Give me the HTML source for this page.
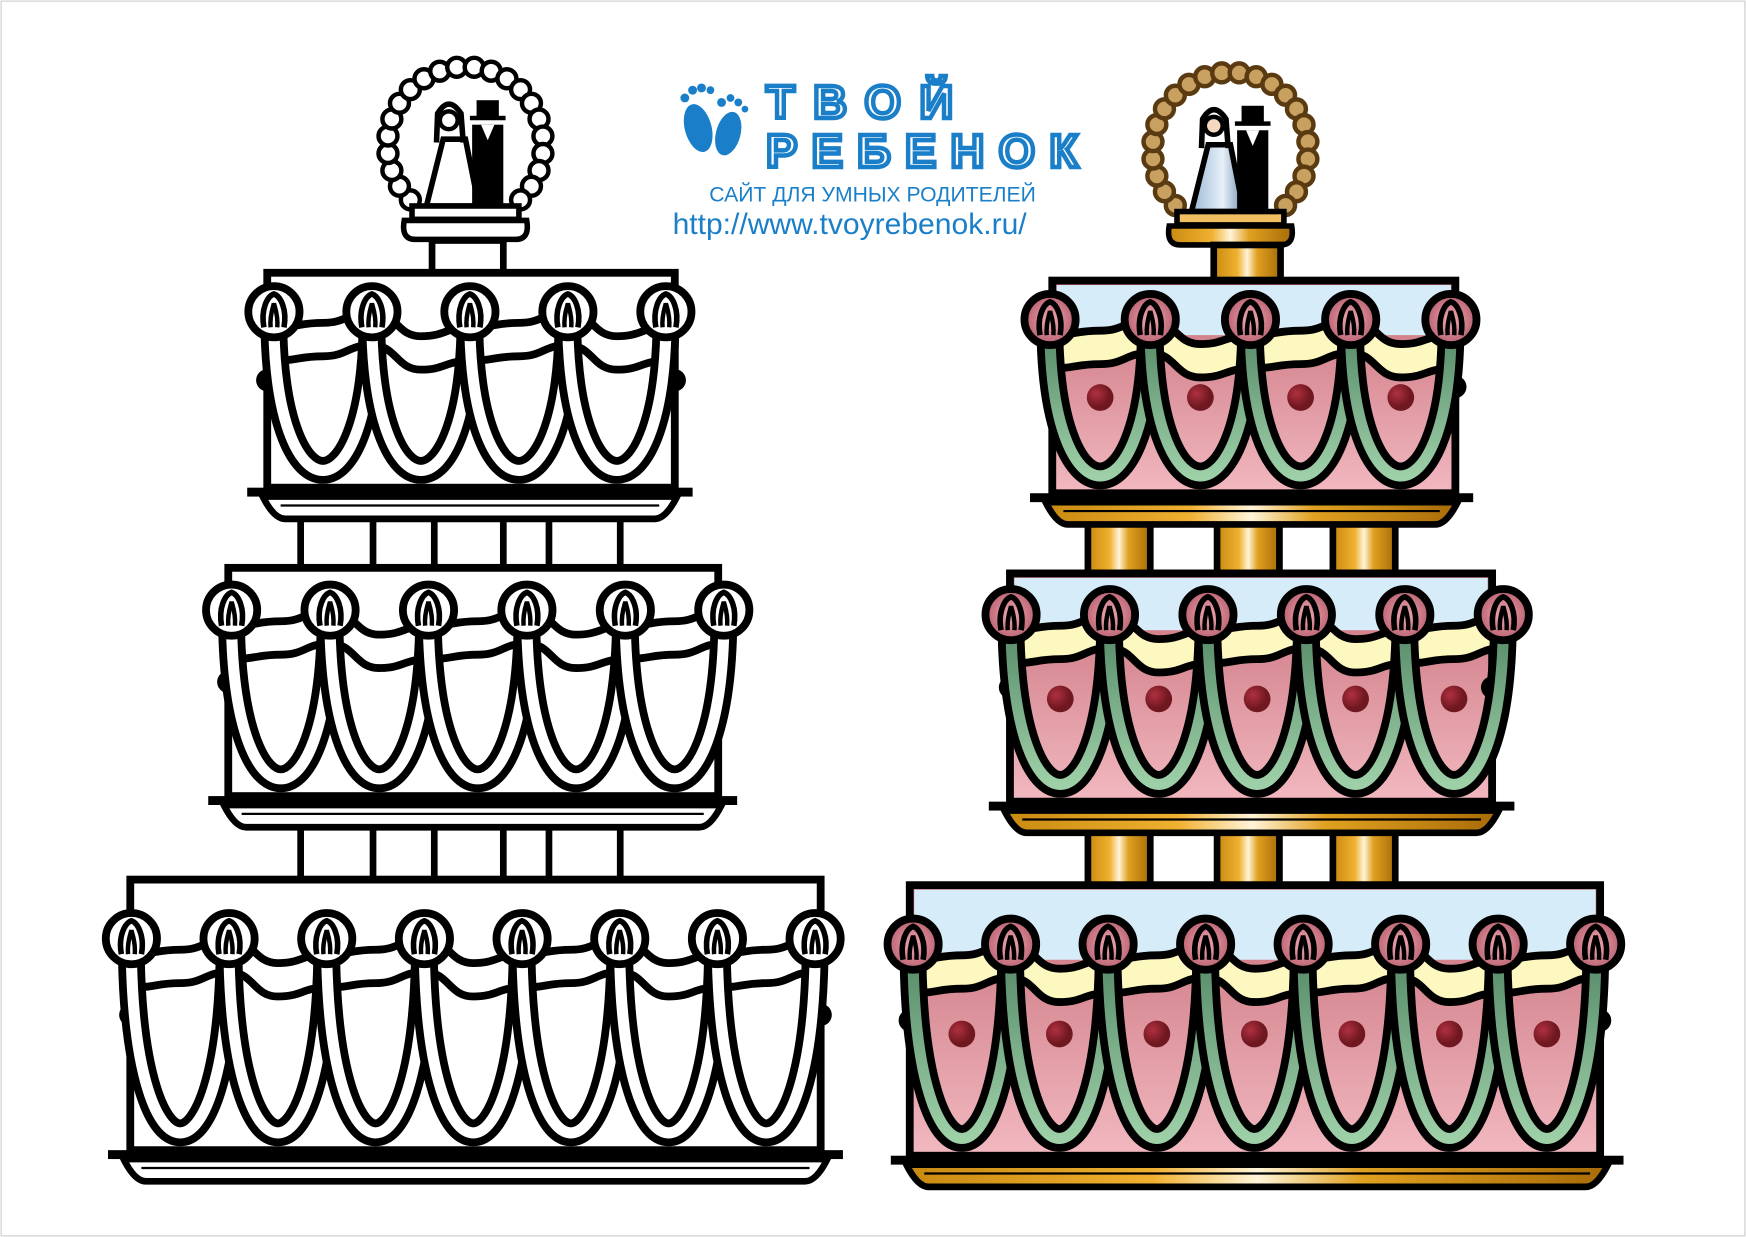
<!DOCTYPE html>
<html><head><meta charset="utf-8"><style>
html,body{margin:0;padding:0;background:#fff;width:1746px;height:1237px;overflow:hidden}
svg{position:absolute;left:0;top:0}
.t{font-family:"Liberation Sans",sans-serif;fill:#1a7fc8}
</style></head><body>
<svg id="s" width="1746" height="1237" viewBox="0 0 1568 1111" preserveAspectRatio="none" xmlns="http://www.w3.org/2000/svg">
<defs>
<linearGradient id="pink" x1="0" y1="0" x2="0" y2="1"><stop offset="0" stop-color="#c8707a"/><stop offset="1" stop-color="#f2b8c0"/></linearGradient>
<linearGradient id="gold" x1="0" y1="0" x2="1" y2="0"><stop offset="0" stop-color="#c88a10"/><stop offset=".35" stop-color="#f0b030"/><stop offset=".5" stop-color="#fff4d8"/><stop offset=".65" stop-color="#e0a020"/><stop offset="1" stop-color="#a86c08"/></linearGradient>
<linearGradient id="green" x1="0" y1="0" x2="0" y2="1"><stop offset="0" stop-color="#5a8e6c"/><stop offset="1" stop-color="#9ed0a8"/></linearGradient>
<radialGradient id="rose"><stop offset="0" stop-color="#f0a8b0"/><stop offset="1" stop-color="#b86070"/></radialGradient>
<radialGradient id="dot" cx=".35" cy=".35"><stop offset="0" stop-color="#b03040"/><stop offset="1" stop-color="#701820"/></radialGradient>
<linearGradient id="bride" x1="0" y1="0" x2="1" y2="0"><stop offset="0" stop-color="#9ab8d8"/><stop offset=".6" stop-color="#e8f0f8"/><stop offset="1" stop-color="#7090b0"/></linearGradient>
</defs>
<rect x="1" y="1" width="1566" height="1109" fill="none" stroke="#ccc" stroke-width="1"/>
<g id="cakes"></g>
<g fill="#1a7fc8">
<ellipse cx="627" cy="115" rx="12" ry="22" transform="rotate(-15 627 115)"/>
<ellipse cx="654" cy="120" rx="11" ry="20" transform="rotate(15 654 120)"/>
<circle cx="615" cy="88" r="4"/><circle cx="622" cy="81" r="4"/><circle cx="630" cy="79" r="4"/><circle cx="638" cy="81" r="3.5"/>
<circle cx="648" cy="92" r="4"/><circle cx="656" cy="88" r="3.5"/><circle cx="663" cy="92" r="3.5"/><circle cx="669" cy="98" r="3"/>
</g>
<text x="688" y="106" font-family="Liberation Sans, sans-serif" font-size="42" font-weight="bold" stroke="#1a7fc8" stroke-width="4" fill="#fff" textLength="168" lengthAdjust="spacing">ТВОЙ</text>
<text x="688" y="150" font-family="Liberation Sans, sans-serif" font-size="42" font-weight="bold" stroke="#1a7fc8" stroke-width="4" fill="#fff" textLength="280" lengthAdjust="spacing">РЕБЕНОК</text>
<text x="637" y="181" class="t" font-size="19">САЙТ ДЛЯ УМНЫХ  РОДИТЕЛЕЙ</text>
<text x="604" y="210" class="t" font-size="27">http://www.tvoyrebenok.ru/</text>
</svg>
<script>
const NS="http://www.w3.org/2000/svg",G=document.getElementById('cakes');
function el(t,a,p){const e=document.createElementNS(NS,t);for(const k in a)e.setAttribute(k,a[k]);(p||G).appendChild(e);return e;}
function smooth(pts){let d='M'+pts[0][0]+' '+pts[0][1];for(let i=1;i<pts.length;i++){const a=pts[i-1],b=pts[i],m=(a[0]+b[0])/2;d+=` C${m} ${a[1]},${m} ${b[1]},${b[0]} ${b[1]}`;}return d;}
function tier(x1,x2,y1,y2,ry,roses,col,px1,px2){
 const h=y2-y1;
 el('rect',{x:x1,y:y1,width:x2-x1,height:h,fill:col?'url(#pink)':'#fff',stroke:'#000','stroke-width':7});
 const wave=[],wave2=[];
 for(let i=0;i<roses.length;i++){wave.push([roses[i],ry+8+(i%2?-8:6)]);
  if(i<roses.length-1){wave.push([(roses[i]+roses[i+1])/2,ry+18+(i%2?4:-8)]);}}
 wave.forEach(p=>wave2.push([p[0],p[1]+30]));
 const d1=smooth(wave),d2=smooth(wave2);
 const d2r=smooth(wave2.slice().reverse());
 if(col){
  el('rect',{x:x1+4,y:y1+4,width:x2-x1-8,height:ry-y1+10,fill:'#d6ecf8'});
  el('path',{d:d1+' L'+d2r.slice(1)+' Z',fill:'#fdf8c0'});
 }
 el('path',{d:d1,fill:'none',stroke:'#000','stroke-width':7});
 el('path',{d:d2,fill:'none',stroke:'#000','stroke-width':7});
 el('circle',{cx:x1,cy:y1+h*0.5,r:10});el('circle',{cx:x2,cy:y1+h*0.5,r:10});
 const yb=y2-20, c=ry+(yb-ry)*4/3;
 for(let i=0;i<roses.length-1;i++){const a=roses[i],b=roses[i+1];
  if(col) el('circle',{cx:(a+b)/2,cy:y1+h*0.55,r:12,fill:'url(#dot)'});
  const d=`M${a} ${ry+18} C${a+4} ${c},${b-4} ${c},${b} ${ry+18}`;
  el('path',{d,fill:'none',stroke:'#000','stroke-width':24});
  el('path',{d,fill:'none',stroke:col?'url(#green)':'#fff','stroke-width':10});
 }
 for(const x of roses){
  el('circle',{cx:x,cy:ry,r:23,fill:col?'url(#rose)':'#fff',stroke:'#000','stroke-width':7});
  el('path',{d:`M${x-9} ${ry+14} C${x-12} ${ry-2},${x-6} ${ry-14},${x} ${ry-16} C${x+6} ${ry-14},${x+12} ${ry-2},${x+9} ${ry+14}`,fill:'none',stroke:'#000','stroke-width':5});
  el('path',{d:`M${x-3} ${ry+14} C${x-4} ${ry+2},${x} ${ry-6},${x} ${ry-8} C${x} ${ry-6},${x+4} ${ry+2},${x+3} ${ry+14}`,fill:'none',stroke:'#000','stroke-width':4});
 }
 const py=y2+2;
 el('rect',{x:px1,y:py-2,width:px2-px1,height:8,fill:'#000'});
 el('path',{d:`M${px1+14} ${py+6} L${px2-14} ${py+6} Q${px2-24} ${py+26} ${px2-34} ${py+26} L${px1+34} ${py+26} Q${px1+24} ${py+26} ${px1+14} ${py+6} Z`,fill:col?'url(#gold)':'#fff',stroke:'#000','stroke-width':6});
 el('line',{x1:px1+30,y1:py+14,x2:px2-30,y2:py+14,stroke:'#000','stroke-width':2});
}
function cols(xs,y1,y2,w,col){for(const x of xs)el('rect',{x:x,y:y1,width:w,height:y2-y1,fill:col?'url(#gold)':'#fff',stroke:'#000','stroke-width':6});}
function spread(a,b,n){const r=[];for(let i=0;i<n;i++)r.push(a+(b-a)*i/(n-1));return r;}
function topper(cx,cy,col){
 for(let i=0;i<22;i++){const a=(-225+i*(270/21))*Math.PI/180;
  el('circle',{cx:cx+70*Math.cos(a),cy:cy+70*Math.sin(a),r:8.5,fill:col?'#c8a060':'#fff',stroke:col?'#5a3a10':'#000','stroke-width':4});}
 el('path',{d:`M${cx-35} ${cy+55} L${cx-20} ${cy-5} L${cx} ${cy-5} L${cx+12} ${cy+55} Z`,fill:col?'url(#bride)':'#fff',stroke:'#000','stroke-width':5});
 el('path',{d:`M${cx-26} ${cy-2} L${cx-25} ${cy-28} Q${cx-15} ${cy-45} ${cx-4} ${cy-28} L${cx-2} ${cy-2}`,fill:'none',stroke:'#000','stroke-width':5});
 el('circle',{cx:cx-15,cy:cy-22,r:8,fill:col?'#f4d8c0':'#fff',stroke:'#000','stroke-width':4});
 el('rect',{x:cx+6,y:cy-18,width:28,height:73,fill:'#000'});
 el('rect',{x:cx+10,y:cy-40,width:20,height:16,fill:'#000'});
 el('rect',{x:cx+4,y:cy-26,width:32,height:4,fill:'#000'});
 el('path',{d:`M${cx+14} ${cy-18} L${cx+20} ${cy-4} L${cx+26} ${cy-18} Z`,fill:'#fff'});
 el('rect',{x:cx-48,y:cy+55,width:96,height:12,fill:col?'#f0c060':'#fff',stroke:'#000','stroke-width':5});
 el('path',{d:`M${cx-55} ${cy+68} L${cx+55} ${cy+68} Q${cx+58} ${cy+85} ${cx+45} ${cy+85} L${cx-45} ${cy+85} Q${cx-58} ${cy+85} ${cx-55} ${cy+68}Z`,fill:col?'url(#gold)':'#fff',stroke:'#000','stroke-width':5});
}
topper(418,130,false);
el('rect',{x:388,y:216,width:64,height:30,fill:'#fff',stroke:'#000','stroke-width':6});
for(const x of [270,335,390,452,493,557])el('line',{x1:x,y1:466,x2:x,y2:510,stroke:'#000','stroke-width':6});
for(const x of [270,335,390,452,493,557])el('line',{x1:x,y1:742,x2:x,y2:790,stroke:'#000','stroke-width':6});
tier(240,606,245,438,280,spread(246,598,5),false,222,622);
tier(205,645,510,715,548,spread(208,650,6),false,187,662);
tier(117,737,790,1033,843,spread(118,732,8),false,97,757);
topper(1105,135,true);
el('rect',{x:1090,y:220,width:60,height:33,fill:'url(#gold)',stroke:'#000','stroke-width':6});
cols([977,1093,1197],468,516,56,true);
cols([977,1093,1197],745,796,56,true);
tier(945,1307,252,443,287,spread(943,1303,5),true,925,1323);
tier(907,1340,515,720,552,spread(908,1350,6),true,888,1360);
tier(817,1437,795,1038,848,spread(820,1433,8),true,800,1458);
</script>
</body></html>
